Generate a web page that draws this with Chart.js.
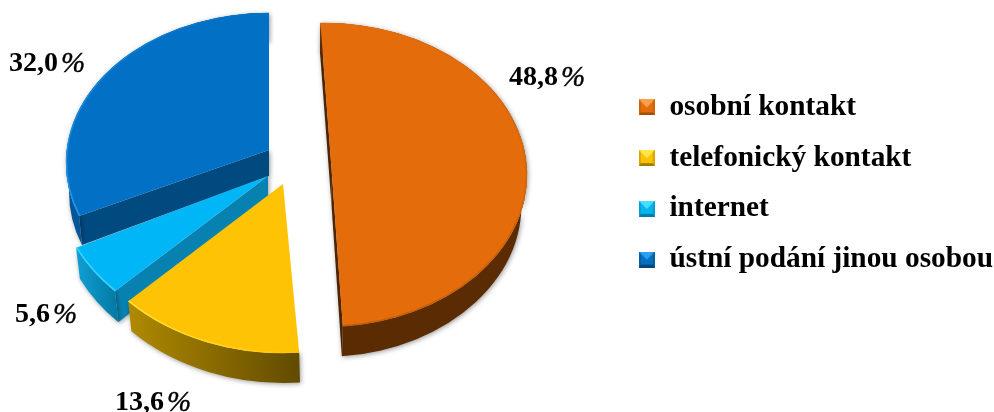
<!DOCTYPE html>
<html>
<head>
<meta charset="utf-8">
<style>
  html, body { margin: 0; padding: 0; background: #fff; }
  canvas { display: block; }
</style>
<script src="https://cdn.jsdelivr.net/npm/chart.js@4"></script>
</head>
<body>
<canvas id="chart" width="994" height="412"></canvas>
<script>
const categories = ['osobní kontakt', 'telefonický kontakt', 'internet', 'ústní podání jinou osobou'];
const shares = [48.8, 13.6, 5.6, 32.0];
const sliceColors = ['#e46c0a', '#ffc305', '#00b6f7', '#0270c4'];

const PIE_CENTRE = { x: 290, y: 165 };

// Perspective look of every wedge, offsets are measured from PIE_CENTRE.
// shrink narrows the lower rim so the band tapers towards the sides.
const wedgeFrames = [
  { rim: [34, 10], apex: [42, 10], rx: 203, ry: 152, tweak: [-1, -1], drop: [-0.5, 30], apexDrop: [-0.5, 30], shrink: 5,
    side: ['#5b2b03', '#5b2b03'], wall: '#4e2503', walls: [0, 1], edge: ['#e46c0a', '#c4600a'] },
  { rim: [-7, 19], apex: [-7, 19], rx: 215, ry: 169, tweak: [0, 1.4], drop: [1, 30], apexDrop: [0, 26], shrink: 3,
    side: ['#b08a00', '#624b00'], wall: '#624b00', walls: [], edge: ['#ffc305', '#ffe93a'] },
  { rim: [-20, 10.5], apex: [-22, 11], rx: 215, ry: 167, tweak: [1.5, -0.4], drop: [2, 31], apexDrop: [0, 26], shrink: 2,
    side: ['#0fa0d4', '#047ba6'], wall: '#0782b0', walls: [0], edge: ['#35d6ff', '#35d6ff'] },
  { rim: [-21, -2], apex: [-21, -15], rx: 203, ry: 150, tweak: [4.5, 0], drop: [0, 29], apexDrop: [0, 26], shrink: 3,
    side: ['#04569a', '#02406e'], wall: '#004a80', walls: [0], edge: ['#2196e6', '#0270c4'] },
];

// Where the percentage labels start, from PIE_CENTRE.
const labelOffsets = [[219, -87], [-175, 238], [-275, 150], [-281, -101]];

const rad = (deg) => (deg * Math.PI) / 180;

function bevelIcon(top, side, dark, mid) {
  const c = document.createElement('canvas');
  c.width = 16;
  c.height = 16;
  const g = c.getContext('2d');
  g.fillStyle = mid;
  g.fillRect(0, 0, 16, 16);
  const tri = (pts, col) => {
    g.fillStyle = col;
    g.beginPath();
    pts.forEach((p, i) => (i ? g.lineTo(p[0], p[1]) : g.moveTo(p[0], p[1])));
    g.closePath();
    g.fill();
  };
  tri([[0, 0], [16, 0], [8, 8]], top);
  tri([[0, 0], [2, 2], [2, 14], [0, 16]], side);
  tri([[16, 0], [14, 2], [14, 14], [16, 16]], side);
  tri([[0, 16], [2, 13], [14, 13], [16, 16]], dark);
  return c;
}

const legendIcons = [
  bevelIcon('#f7a050', '#cf620b', '#a54f08', '#e46c0a'),
  bevelIcon('#ffe648', '#d9a605', '#a07d03', '#fcc005'),
  bevelIcon('#45e0ff', '#0a9fd4', '#067fa8', '#07b4ee'),
  bevelIcon('#2f9eee', '#045f9e', '#03477a', '#0670c0'),
];

function frameOf(arc, frame) {
  const a1 = (arc.startAngle * 180) / Math.PI + frame.tweak[0];
  const a2 = (arc.endAngle * 180) / Math.PI + frame.tweak[1];
  const cx = PIE_CENTRE.x + frame.rim[0];
  const cy = PIE_CENTRE.y + frame.rim[1];
  const at = (deg) => [cx + frame.rx * Math.cos(rad(deg)), cy + frame.ry * Math.sin(rad(deg))];
  const lowAt = (deg) => [
    cx + frame.drop[0] + (frame.rx - frame.shrink) * Math.cos(rad(deg)),
    cy + frame.drop[1] + frame.ry * Math.sin(rad(deg)),
  ];
  return { a1, a2, cx, cy, corners: [[at(a1), lowAt(a1)], [at(a2), lowAt(a2)]],
    ax: PIE_CENTRE.x + frame.apex[0], ay: PIE_CENTRE.y + frame.apex[1] };
}

function drawWedge(ctx, arc, frame) {
  const f = frameOf(arc, frame);
  const [dx, dy] = frame.drop;
  const [adx, ady] = frame.apexDrop;
  const [start, end] = [f.corners[0][0], f.corners[1][0]];

  ctx.save();
  ctx.shadowColor = 'rgba(0,0,0,0.4)';
  ctx.shadowBlur = 5;
  ctx.shadowOffsetX = 1;
  ctx.shadowOffsetY = 1;

  // cut walls
  ctx.fillStyle = frame.wall;
  frame.walls.forEach((w) => {
    const [p, q] = f.corners[w];
    ctx.beginPath();
    ctx.moveTo(p[0], p[1]);
    ctx.lineTo(f.ax, f.ay);
    ctx.lineTo(f.ax + adx, f.ay + ady);
    ctx.lineTo(q[0], q[1]);
    ctx.closePath();
    ctx.fill();
  });

  // outer rim band
  const sideFill = ctx.createLinearGradient(Math.min(start[0], end[0]), 0, Math.max(start[0], end[0]), 0);
  sideFill.addColorStop(0, frame.side[0]);
  sideFill.addColorStop(1, frame.side[1]);
  ctx.fillStyle = sideFill;
  ctx.beginPath();
  ctx.ellipse(f.cx, f.cy, frame.rx, frame.ry, 0, rad(f.a1), rad(f.a2));
  ctx.ellipse(f.cx + dx, f.cy + dy, frame.rx - frame.shrink, frame.ry, 0, rad(f.a2), rad(f.a1), true);
  ctx.closePath();
  ctx.fill();
  ctx.restore();

  // top face
  ctx.fillStyle = arc.options.backgroundColor;
  ctx.beginPath();
  ctx.ellipse(f.cx, f.cy, frame.rx, frame.ry, 0, rad(f.a1), rad(f.a2));
  ctx.lineTo(f.ax, f.ay);
  ctx.closePath();
  ctx.fill();

  // bevel along the rim
  const edge = ctx.createLinearGradient(start[0], start[1], end[0], end[1]);
  edge.addColorStop(0, frame.edge[0]);
  edge.addColorStop(1, frame.edge[1]);
  ctx.strokeStyle = edge;
  ctx.lineWidth = 1.5;
  ctx.beginPath();
  ctx.ellipse(f.cx, f.cy, frame.rx - 0.5, frame.ry - 0.5, 0, rad(f.a1), rad(f.a2));
  ctx.stroke();
}

const extrudedPie = {
  id: 'extrudedPie',
  beforeDatasetDraw(chart, args) {
    const ctx = chart.ctx;
    const arcs = args.meta.data;
    // back wedges first so the nearer ones cover them
    for (let i = arcs.length - 1; i >= 0; i--) {
      drawWedge(ctx, arcs[i], wedgeFrames[i]);
    }
    return false;
  },
  afterDatasetsDraw(chart) {
    const ctx = chart.ctx;
    ctx.save();
    ctx.fillStyle = '#000';
    ctx.strokeStyle = '#000';
    ctx.lineWidth = 0.4;
    ctx.textAlign = 'left';
    ctx.textBaseline = 'middle';
    shares.forEach((v, i) => {
      const x = PIE_CENTRE.x + labelOffsets[i][0];
      const y = PIE_CENTRE.y + labelOffsets[i][1];
      const number = v.toFixed(1).replace('.', ',');
      // the percent sign is set lighter than the number
      ctx.font = 'bold 28px "Liberation Serif"';
      ctx.fillText(number, x, y);
      const w = ctx.measureText(number).width;
      ctx.font = 'italic 29px "Liberation Serif"';
      ctx.fillText('%', x + w + 3, y);
      ctx.strokeText('%', x + w + 3, y);
    });
    ctx.restore();
  },
};

new Chart(document.getElementById('chart'), {
  type: 'pie',
  data: {
    labels: categories,
    datasets: [{ data: shares, backgroundColor: sliceColors, borderWidth: 0 }],
  },
  plugins: [extrudedPie],
  options: {
    responsive: false,
    animation: false,
    layout: { padding: { bottom: 45, right: -9 } },
    plugins: {
      tooltip: { enabled: false },
      legend: {
        position: 'right',
        align: 'center',
        labels: {
          usePointStyle: true,
          pointStyleWidth: 16,
          boxWidth: 16,
          boxHeight: 16,
          padding: 21.4,
          color: '#000',
          font: { family: '"Liberation Serif"', size: 29.33, weight: 'bold' },
          generateLabels: () => categories.map((text, i) => ({
            text,
            index: i,
            hidden: false,
            pointStyle: legendIcons[i],
            fillStyle: sliceColors[i],
            strokeStyle: sliceColors[i],
            lineWidth: 0,
            fontColor: '#000',
          })),
        },
      },
    },
  },
});
</script>
</body>
</html>
